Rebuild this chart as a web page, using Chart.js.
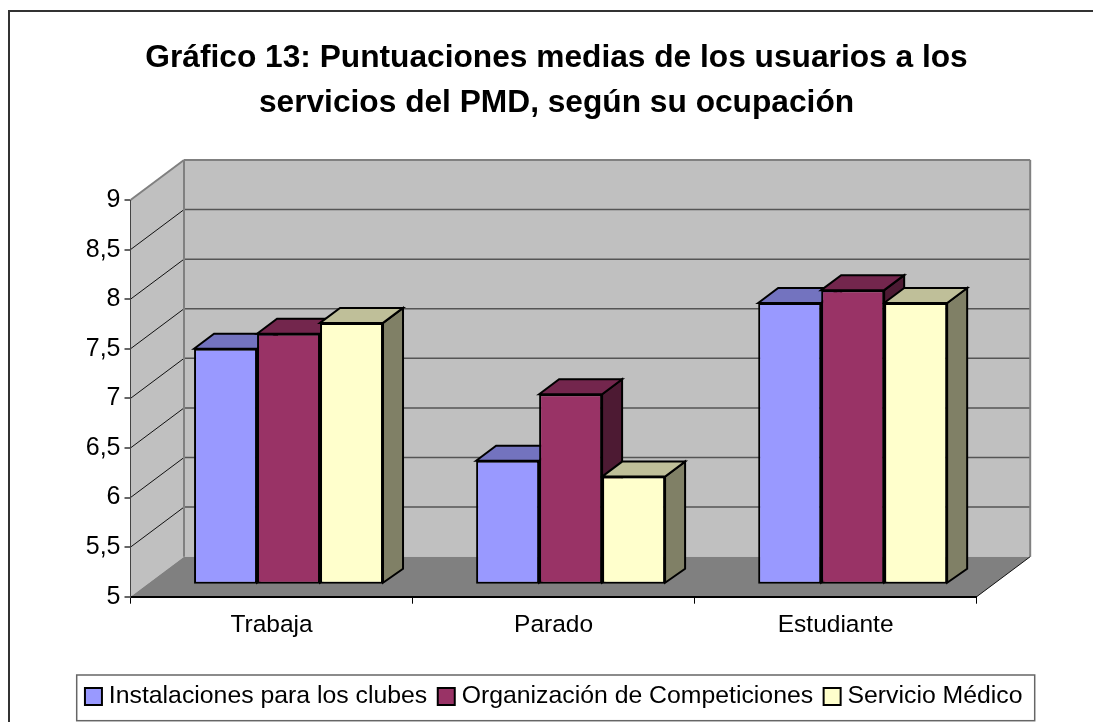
<!DOCTYPE html>
<html lang="es">
<head>
<meta charset="utf-8">
<title>Gráfico 13</title>
<style>
  html, body { margin: 0; padding: 0; background: #fff; overflow: hidden; }
  canvas { display: block; }
</style>
<script src="https://cdn.jsdelivr.net/npm/chart.js@4"></script>
</head>
<body>
<canvas id="grafico" width="1093" height="722"></canvas>
<script>
const tituloLineas = [
  "Gráfico 13: Puntuaciones medias de los usuarios a los",
  "servicios del PMD, según su ocupación"
];
const categorias = ["Trabaja", "Parado", "Estudiante"];
const etiquetasY = ["5", "5,5", "6", "6,5", "7", "7,5", "8", "8,5", "9"];

const instalaciones = [7.38, 6.25, 7.84];
const competiciones = [7.53, 6.92, 7.97];
const servicioMedico = [7.64, 6.09, 7.84];

const nombresSeries = ["Instalaciones para los clubes", "Organización de Competiciones", "Servicio Médico"];
const coloresFrente = ["#9999FF", "#993366", "#FFFFCC"];
const coloresArriba = ["#7373BF", "#73264D", "#BFBF99"];
const coloresLado = ["#4D4D80", "#4D1A33", "#808066"];

// profundidad de la caja 3D y de las barras
const fondo = { x: 53.5, y: -40 };
const barraDesde = { x: 17, y: -12 };
const barraProf = { x: 20, y: -15 };

const poligono = (ctx, puntos, relleno, borde, grosor) => {
  ctx.beginPath();
  puntos.forEach((p, i) => (i ? ctx.lineTo(p[0], p[1]) : ctx.moveTo(p[0], p[1])));
  ctx.closePath();
  if (relleno) {
    ctx.fillStyle = relleno;
    ctx.fill();
  }
  if (borde) {
    ctx.strokeStyle = borde;
    ctx.lineWidth = grosor;
    ctx.lineJoin = "miter";
    ctx.stroke();
  }
};

const linea = (ctx, x1, y1, x2, y2, color, grosor) => {
  ctx.beginPath();
  ctx.moveTo(x1, y1);
  ctx.lineTo(x2, y2);
  ctx.strokeStyle = color;
  ctx.lineWidth = grosor;
  ctx.stroke();
};

const caja3d = {
  id: "caja3d",
  beforeDraw(chart) {
    const { ctx, chartArea: a, scales } = chart;
    const bx = a.left + fondo.x, dy = fondo.y;
    ctx.save();
    // marco exterior
    linea(ctx, 9, 722, 9, 11, "#333", 2);
    linea(ctx, 8, 11, 1093, 11, "#333", 2);
    // suelo y paredes
    poligono(ctx, [[a.left, a.top], [bx, a.top + dy], [bx, a.bottom + dy], [a.left, a.bottom]], "#C0C0C0");
    ctx.fillStyle = "#C0C0C0";
    ctx.fillRect(bx, a.top + dy, a.right - a.left, a.bottom - a.top);
    poligono(ctx, [[a.left, a.bottom], [a.right, a.bottom], [a.right + fondo.x, a.bottom + dy], [bx, a.bottom + dy]], "#808080");
    // rejilla
    etiquetasY.forEach((t, i) => {
      const y = scales.y.getPixelForValue(5 + i * 0.5);
      if (i === 0 || i === etiquetasY.length - 1) return;
      linea(ctx, a.left, y, bx, y + dy, "#111", 1);
      linea(ctx, bx, y + dy, a.right + fondo.x, y + dy, "#555", 1.5);
    });
    linea(ctx, a.left, a.top, bx, a.top + dy, "#808080", 2);
    linea(ctx, bx, a.top + dy, a.right + fondo.x, a.top + dy, "#808080", 2);
    linea(ctx, bx, a.top + dy, bx, a.bottom + dy, "#808080", 2);
    linea(ctx, a.right + fondo.x, a.top + dy, a.right + fondo.x, a.bottom + dy, "#808080", 2);
    linea(ctx, a.right, a.bottom, a.right + fondo.x, a.bottom + dy, "#111", 1);
    ctx.restore();
  },
  beforeDatasetsDraw(chart) {
    const ctx = chart.ctx;
    ctx.save();
    ctx.translate(barraDesde.x, barraDesde.y);
    // caras de arriba y laterales, de izquierda a derecha
    categorias.forEach((c, j) => {
      chart.data.datasets.forEach((ds, i) => {
        const b = chart.getDatasetMeta(i).data[j].getProps(["x", "y", "base", "width"]);
        const izq = b.x - b.width / 2, der = b.x + b.width / 2;
        const px = barraProf.x, py = barraProf.y;
        poligono(ctx, [[der, b.base - 1], [der + px, b.base + py], [der + px, b.y + py], [der, b.y]], coloresLado[i], "#000", 2);
        poligono(ctx, [[izq, b.y], [izq + px, b.y + py], [der + px, b.y + py], [der, b.y]], coloresArriba[i], "#000", 2);
      });
    });
  },
  afterDatasetsDraw(chart) {
    chart.ctx.restore();
  },
  afterDraw(chart) {
    // recuadro de la leyenda
    const { ctx, legend } = chart;
    ctx.save();
    ctx.strokeStyle = "#666";
    ctx.lineWidth = 1.5;
    ctx.strokeRect(76.7, legend.bottom - 44, 958, 45.7);
    ctx.restore();
  }
};

new Chart(document.getElementById("grafico"), {
  type: "bar",
  data: {
    labels: categorias,
    datasets: [instalaciones, competiciones, servicioMedico].map((valores, i) => ({
      label: nombresSeries[i],
      data: valores,
      base: 5,
      backgroundColor: coloresFrente[i],
      borderColor: "#000",
      borderWidth: 2,
      borderSkipped: false,
      clip: false,
      pointStyle: "rect",
      categoryPercentage: 0.67,
      barPercentage: 1
    }))
  },
  plugins: [caja3d],
  options: {
    responsive: false,
    animation: false,
    layout: { padding: { left: 20, top: 12, right: 0, bottom: 3 } },
    plugins: {
      tooltip: { enabled: false },
      title: {
        display: true,
        text: tituloLineas,
        color: "#000",
        font: { family: "'Liberation Sans'", size: 31.7, weight: "bold", lineHeight: 1.42 },
        padding: { top: 24, bottom: 74 }
      },
      legend: {
        position: "bottom",
        labels: {
          color: "#000",
          font: { family: "'Liberation Sans'", size: 24.8 },
          usePointStyle: true,
          boxWidth: 6,
          boxHeight: 17,
          padding: 16
        }
      }
    },
    scales: {
      x: {
        afterFit: (s) => { s.height = 71.5; },
        grid: { drawOnChartArea: false, color: "#000", lineWidth: 1, tickLength: 7 },
        border: { color: "#000", width: 2 },
        ticks: { color: "#000", font: { family: "'Liberation Sans'", size: 24.5 }, padding: 7, maxRotation: 0 }
      },
      y: {
        min: 5,
        max: 9,
        afterFit: (s) => { s.width = 110.5; },
        grid: { drawOnChartArea: false, color: "#666", lineWidth: 2, tickLength: 6 },
        border: { color: "#444", width: 1 },
        ticks: {
          stepSize: 0.5,
          color: "#000",
          font: { family: "'Liberation Sans'", size: 25 },
          padding: 4,
          callback: (v, i) => etiquetasY[i]
        }
      },
      margenDerecho: {
        position: "right",
        afterFit: (s) => { s.width = 116.3; },
        grid: { display: false },
        border: { display: false },
        ticks: { display: false }
      }
    }
  }
});
</script>
</body>
</html>
